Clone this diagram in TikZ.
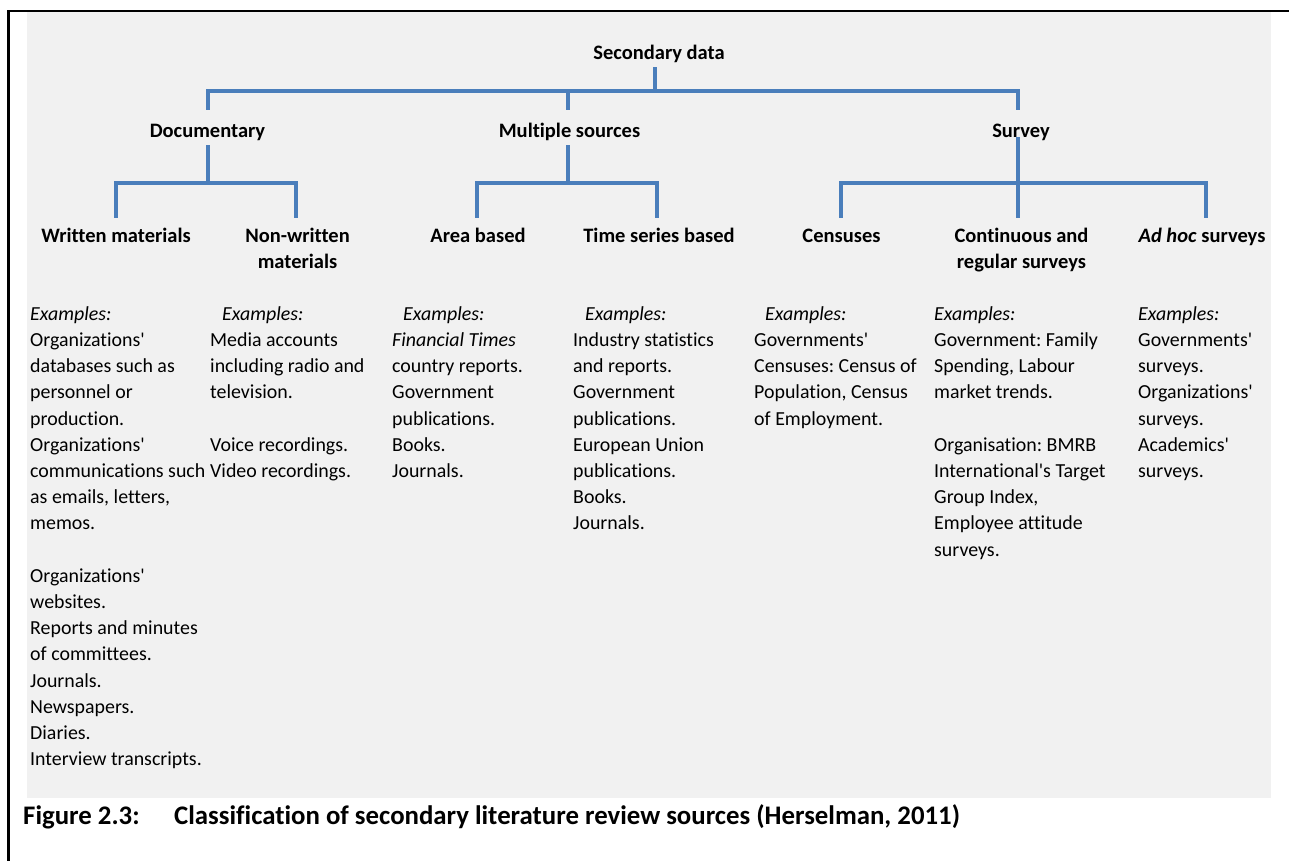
\documentclass[tikz,border=0pt]{standalone}
\usepackage{fontspec}
\setmainfont{Carlito}[Ligatures={TeXOff,NoCommon}]
\definecolor{linkblue}{RGB}{74,126,187}
\definecolor{panel}{RGB}{241,241,241}
\frenchspacing

\begin{document}
\begin{tikzpicture}[x=1pt,y=-1pt,
  conn/.style={draw=linkblue,line width=4pt,line join=miter},
  head/.style={font=\fontsize{20.5}{26.2}\selectfont\bfseries,align=center,anchor=north,inner sep=0pt},
  exlist/.style={font=\fontsize{19.9}{26.2}\selectfont,align=left,anchor=north west,inner sep=0pt},
  captxt/.style={font=\fontsize{26.8}{30}\selectfont\bfseries,anchor=base west,inner sep=0pt}]

\useasboundingbox (0,0) rectangle (1289,861);

% panel and frame
\fill[panel] (27,12) rectangle (1271,798);
\draw[line width=2.4pt] (8.3,861) -- (8.3,11) -- (1289,11);

% bus levels
\coordinate (busA) at (0,91);
\coordinate (busB) at (0,183);

% headings (north = baseline - 18.34)
\node[head] (sd)  at (659,40.66)   {\strut Secondary data};
\node[head] (doc) at (207.5,118.66) {\strut Documentary};
\node[head] (ms)  at (569.5,118.66) {\strut Multiple sources};
\node[head] (sv)  at (1021,118.66)  {\strut Survey};

\node[head] (wm)  at (116,223.66)   {\strut Written materials};
\node[head] (nwm) at (297.5,223.66) {\strut Non-written\\materials};
\node[head] (ab)  at (478,223.66)   {\strut Area based};
\node[head] (tsb) at (659,223.66)   {\strut Time series based};
\node[head] (cen) at (841.5,223.66) {\strut Censuses};
\node[head] (crs) at (1021.5,223.66){\strut Continuous and\\regular surveys};
\node[head] (adh) at (1202,223.66)  {\strut\textit{Ad hoc} surveys};

% connectors, top level
\draw[conn] ([xshift=-4pt]sd.south) -- ([xshift=-4pt]sd.south |- busA) -| ([yshift=8.7pt]doc.north);
\draw[conn] ([xshift=-4pt]sd.south) -- ([xshift=-4pt]sd.south |- busA) -| ([yshift=8.7pt,xshift=-1.5pt]ms.north);
\draw[conn] ([xshift=-4pt]sd.south) -- ([xshift=-4pt]sd.south |- busA) -| ([yshift=8.7pt,xshift=-3pt]sv.north);

% connectors, second level
\draw[conn] (doc.south) -- (doc.south |- busB) -| ([yshift=5.7pt]wm.north);
\draw[conn] (doc.south) -- (doc.south |- busB) -| ([yshift=5.7pt,xshift=-2pt]nwm.north);
\draw[conn] ([xshift=-1.5pt]ms.south) -- ([xshift=-1.5pt]ms.south |- busB) -| ([yshift=5.7pt,xshift=-1pt]ab.north);
\draw[conn] ([xshift=-1.5pt]ms.south) -- ([xshift=-1.5pt]ms.south |- busB) -| ([yshift=5.7pt,xshift=-2pt]tsb.north);
\draw[conn] ([xshift=-3pt,yshift=7.86pt]sv.south) -- ([xshift=-3pt]sv.south |- busB) -| ([yshift=5.7pt,xshift=-0.5pt]cen.north);
\draw[conn] ([xshift=-3pt,yshift=7.86pt]sv.south) -- ([yshift=5.7pt,xshift=-3.5pt]crs.north);
\draw[conn] ([xshift=-3pt]sv.south |- busB) -| ([yshift=5.7pt,xshift=4pt]adh.north);

% example lists (first baseline at 320)
\node[exlist] (ex1) at (30,301.66) {\strut\textit{Examples:}\\Organizations'\\databases such as\\personnel or\\production.\\Organizations'\\communications such\\as emails, letters,\\memos.\\\mbox{}\\Organizations'\\websites.\\Reports and minutes\\of committees.\\Journals.\\Newspapers.\\Diaries.\\Interview transcripts.};
\node[exlist] (ex2) at (210,301.66) {\strut\hspace*{12pt}\textit{Examples:}\\Media accounts\\including radio and\\television.\\\mbox{}\\Voice recordings.\\Video recordings.};
\node[exlist] (ex3) at (392,301.66) {\strut\hspace*{11pt}\textit{Examples:}\\\textit{Financial Times}\\country reports.\\Government\\publications.\\Books.\\Journals.};
\node[exlist] (ex4) at (573,301.66) {\strut\hspace*{12pt}\textit{Examples:}\\Industry statistics\\and reports.\\Government\\publications.\\European Union\\publications.\\Books.\\Journals.};
\node[exlist] (ex5) at (754,301.66) {\strut\hspace*{11pt}\textit{Examples:}\\Governments'\\Censuses: Census of\\Population, Census\\of Employment.};
\node[exlist] (ex6) at (934,301.66) {\strut\textit{Examples:}\\Government: Family\\Spending, Labour\\market trends.\\\mbox{}\\Organisation: BMRB\\International's Target\\Group Index,\\Employee attitude\\surveys.};
\node[exlist] (ex7) at (1138,301.66) {\strut\textit{Examples:}\\Governments'\\surveys.\\Organizations'\\surveys.\\Academics'\\surveys.};

% caption
\node[captxt] (figno)  at (23,824)  {Figure 2.3:};
\node[captxt] (figcap) at (174,824) {Classification of secondary literature review sources (Herselman, 2011)};

\end{tikzpicture}
\end{document}
